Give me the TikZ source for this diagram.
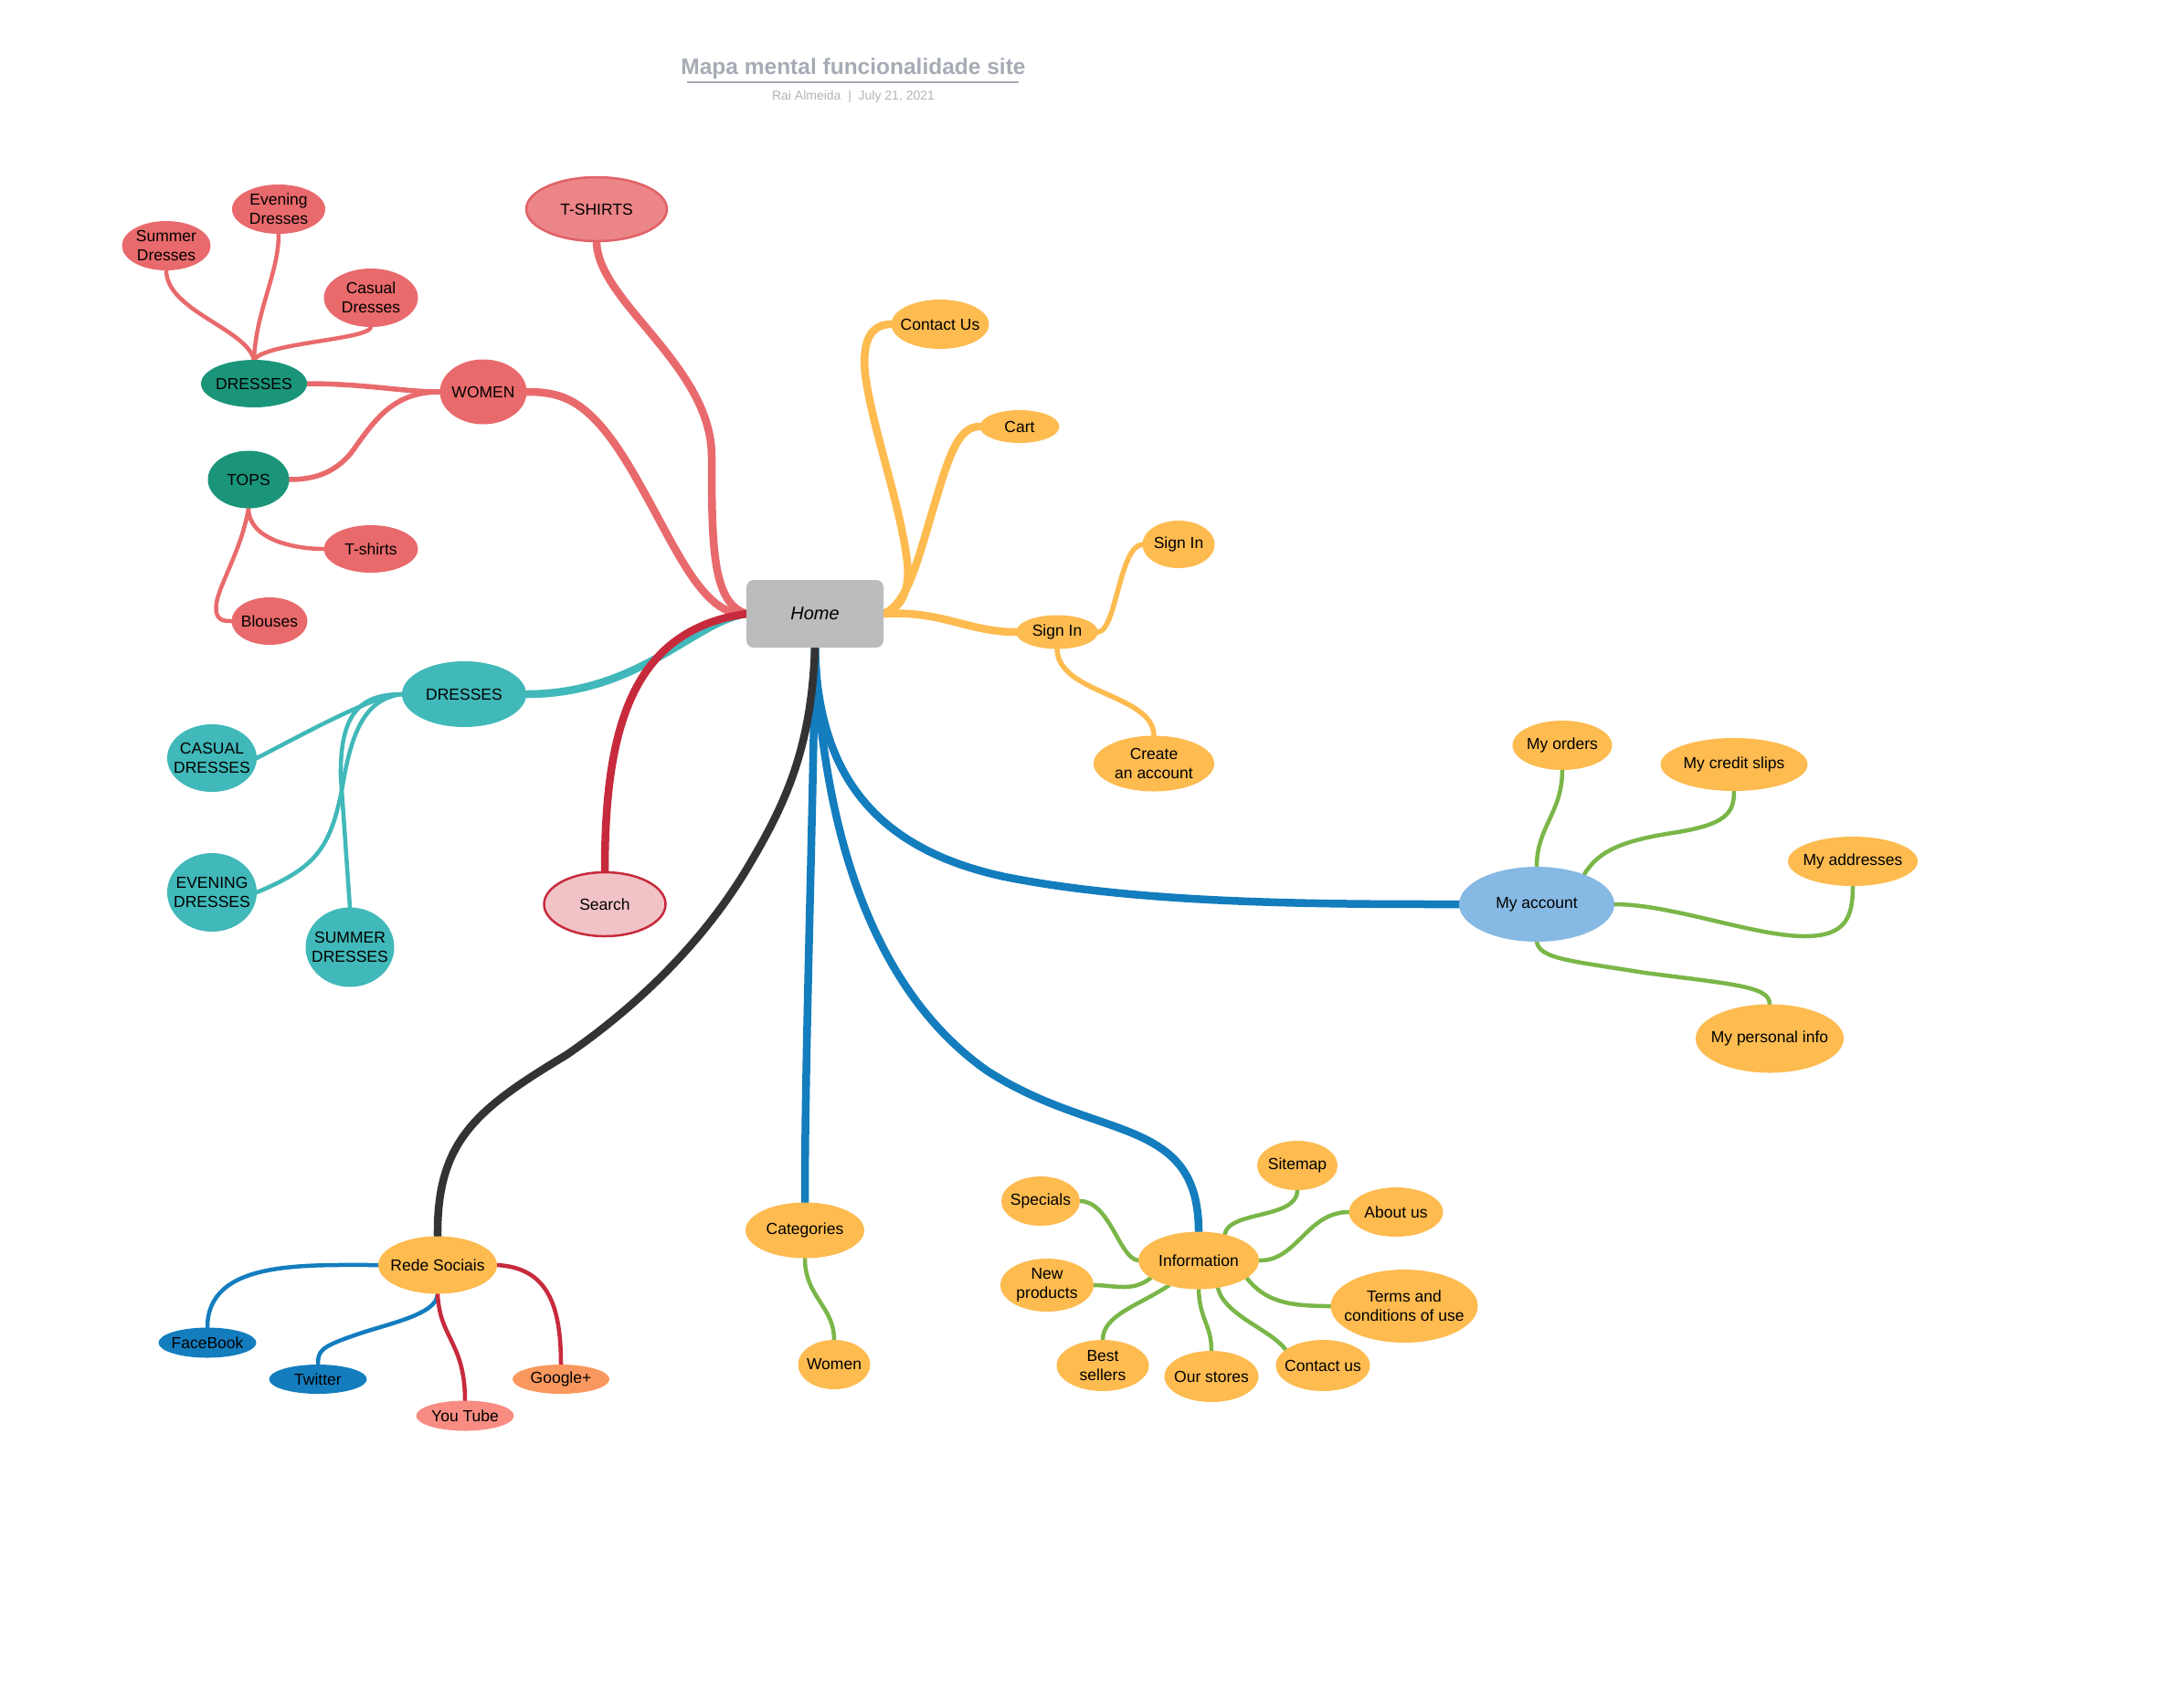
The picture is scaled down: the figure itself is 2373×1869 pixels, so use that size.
\documentclass[tikz,border=0pt]{standalone}
\usepackage{fontspec}
\setmainfont{Liberation Sans}
\usetikzlibrary{shapes.geometric}
\pgfdeclarelayer{back}
\pgfdeclarelayer{bg}
\pgfsetlayers{back,bg,main}
\definecolor{redn}{HTML}{E96A6C}
\definecolor{tsfill}{HTML}{EC8588}
\definecolor{tsline}{HTML}{E06266}
\definecolor{dgreen}{HTML}{1B957A}
\definecolor{tealc}{HTML}{41B8B9}
\definecolor{crim}{HTML}{C72A3C}
\definecolor{pinkf}{HTML}{F1C3C7}
\definecolor{orng}{HTML}{FDBB50}
\definecolor{blu}{HTML}{137DBE}
\definecolor{skyb}{HTML}{86B9E3}
\definecolor{grn}{HTML}{7AB648}
\definecolor{homeg}{HTML}{BBBCBE}
\definecolor{darkl}{HTML}{333333}
\definecolor{salm}{HTML}{F88C82}
\definecolor{gplus}{HTML}{F9985E}
\definecolor{titleg}{HTML}{A6ACB5}
\definecolor{subg}{HTML}{B1B5BB}
\begin{document}
\begin{tikzpicture}[x=1pt,y=-1pt,
  every label/.style={align=center, font=\fontsize{17.5}{21}\selectfont, inner sep=0pt, text=black},
  el/.style n args={3}{ellipse, minimum width=#1pt, minimum height=#2pt, inner sep=0pt, outer sep=0pt, fill=#3, draw=none},
  lk/.style={line cap=round, line join=round},
  mainln/.style={lk, line width=8.5pt},
  subln/.style={lk, line width=5.5pt},
  leafln/.style={lk, line width=4.5pt},
]
\begin{pgfonlayer}{back}
\fill[white] (0,0) rectangle (2373,1869);
\end{pgfonlayer}
\useasboundingbox (0,0) rectangle (2373,1869);

% title
\node[font=\bfseries\fontsize{24.5}{28}\selectfont, text=titleg, anchor=base, inner sep=0] (title) at (934,81) {Mapa mental funcionalidade site};
\coordinate (ula) at (752,90);
\coordinate (ulb) at (1115,90);
\draw[titleg, line width=2pt] (ula) -- (ulb);
\node[font=\fontsize{14}{16}\selectfont, text=subg, anchor=base, inner sep=0] (sub) at (934,109) {Rai Almeida\ \ |\ \ July 21, 2021};

% home
\node[rectangle, rounded corners=8pt, fill=homeg, minimum width=150pt, minimum height=74pt, inner sep=0pt,
  label={[font=\fontsize{20}{24}\selectfont\itshape]center:Home}] (home) at (892,672) {};

% red cluster
\node[el={102}{54}{redn}, label={center:Evening\\Dresses}] (evd) at (305,229) {};
\node[el={97}{54}{redn}, label={center:Summer\\Dresses}] (sud) at (182,269) {};
\node[el={103}{64}{redn}, label={center:Casual\\Dresses}] (cad) at (406,326) {};
\node[el={116}{52}{dgreen}, label={center:DRESSES}] (dra) at (278,420) {};
\node[el={95}{71}{redn}, label={center:WOMEN}] (women) at (529,429) {};
\node[el={89}{63}{dgreen}, label={center:TOPS}] (tops) at (272,525) {};
\node[el={103}{52}{redn}, label={center:T-shirts}] (tsh) at (406,601) {};
\node[el={83}{52}{redn}, label={center:Blouses}] (blo) at (295,680) {};
\node[el={154}{70}{tsfill}, draw=tsline, line width=2.5pt, label={center:T-SHIRTS}] (tshirts) at (653,229) {};

% teal cluster
\node[el={136}{72}{tealc}, label={center:DRESSES}] (drb) at (508,760) {};
\node[el={98}{74}{tealc}, label={center:CASUAL\\DRESSES}] (cas) at (232,830) {};
\node[el={98}{86}{tealc}, label={center:EVENING\\DRESSES}] (eve) at (232,977) {};
\node[el={97}{87}{tealc}, label={center:SUMMER\\DRESSES}] (sum) at (383,1037) {};
\node[el={133}{70}{pinkf}, draw=crim, line width=2.5pt, label={center:Search}] (search) at (662,990) {};

% orange upper right
\node[el={107}{54}{orng}, label={center:Contact Us}] (contact) at (1029,355) {};
\node[el={87}{36}{orng}, label={center:Cart}] (cart) at (1116,467) {};
\node[el={79}{52}{orng}, label={center:Sign In}] (signb) at (1290,596) {};
\node[el={90}{37}{orng}, label={center:Sign In}] (signa) at (1157,692) {};
\node[el={132}{61}{orng}, label={center:Create\\an account}] (create) at (1263,836) {};

% my account
\node[el={170}{82}{skyb}, label={center:My account}] (myacc) at (1682,990) {};
\node[el={109}{54}{orng}, label={center:My orders}] (orders) at (1710,816) {};
\node[el={161}{58}{orng}, label={center:My credit slips}] (credit) at (1898,837) {};
\node[el={142}{54}{orng}, label={center:My addresses}] (addr) at (2028,943) {};
\node[el={162}{75}{orng}, label={center:My personal info}] (pinfo) at (1937,1137) {};

% social
\node[el={130}{63}{orng}, label={center:Rede Sociais}] (rede) at (479,1385) {};
\node[el={107}{33}{blu}, label={center:FaceBook}] (fb) at (227,1470) {};
\node[el={107}{32}{blu}, label={center:Twitter}] (tw) at (348,1510) {};
\node[el={107}{33}{salm}, label={center:You Tube}] (yt) at (509,1550) {};
\node[el={106}{32}{gplus}, label={center:Google+}] (gp) at (614,1510) {};

% categories
\node[el={130}{61}{orng}, label={center:Categories}] (categ) at (881,1347) {};
\node[el={79}{54}{orng}, label={center:Women}] (womenb) at (913,1494) {};

% information
\node[el={132}{63}{orng}, label={center:Information}] (info) at (1312,1380) {};
\node[el={88}{54}{orng}, label={center:Sitemap}] (sitemap) at (1420,1276) {};
\node[el={103}{54}{orng}, label={center:About us}] (about) at (1528,1327) {};
\node[el={161}{80}{orng}, label={center:Terms and\\conditions of use}] (terms) at (1537,1430) {};
\node[el={103}{56}{orng}, label={center:Contact us}] (contactb) at (1448,1495) {};
\node[el={103}{56}{orng}, label={center:Our stores}] (stores) at (1326,1507) {};
\node[el={101}{56}{orng}, label={center:Best\\sellers}] (best) at (1207,1495) {};
\node[el={102}{58}{orng}, label={center:New\\products}] (newp) at (1146,1407) {};
\node[el={86}{54}{orng}, label={center:Specials}] (specials) at (1139,1315) {};

\begin{pgfonlayer}{bg}
% red branches
\draw[mainln, redn] (home.west) .. controls (770,676) and (740,600) .. (700,530) .. controls (650,440) and (620,429) .. (women.east);
\draw[mainln, redn] (home.west) .. controls (780,660) and (779,600) .. (779,500) .. controls (779,400) and (653,330) .. (tshirts.south);
\draw[subln, redn] (women.west) .. controls (440,429) and (400,420) .. (dra.east);
\draw[subln, redn] (women.west) .. controls (430,429) and (410,460) .. (385,495) .. controls (365,520) and (340,525) .. (tops.east);
\draw[leafln, redn] (dra.north) .. controls (270,360) and (182,340) .. (sud.south);
\draw[leafln, redn] (dra.north) .. controls (280,340) and (305,300) .. (evd.south);
\draw[leafln, redn] (dra.north) .. controls (290,375) and (404,372) .. (cad.south);
\draw[leafln, redn] (tops.south) .. controls (272,590) and (320,601) .. (tsh.west);
\draw[leafln, redn] (tops.south) .. controls (265,600) and (240,640) .. (237,660) .. controls (234,680) and (245,680) .. (blo.west);
% teal
\draw[mainln, tealc] (home.west) .. controls (760,680) and (700,760) .. (drb.east);
\draw[leafln, tealc] (drb.west) .. controls (410,760) and (330,805) .. (cas.east);
\draw[leafln, tealc] (drb.west) .. controls (400,765) and (385,800) .. (375,860) .. controls (362,930) and (345,950) .. (eve.east);
\draw[leafln, tealc] (drb.west) .. controls (395,760) and (372,780) .. (373,850) -- (sum.north);
% search
\draw[mainln, crim] (home.west) .. controls (690,690) and (662,800) .. (search.north);
% orange
\draw[mainln, orng] (home.east) .. controls (990,665) and (996,640) .. (993,615) .. controls (985,550) and (955,470) .. (947,410) .. controls (943,370) and (955,355) .. (contact.west);
\draw[mainln, orng] (home.east) .. controls (995,660) and (1005,610) .. (1025,545) .. controls (1040,495) and (1050,467) .. (cart.west);
\draw[mainln, orng] (home.east) .. controls (1030,668) and (1060,692) .. (signa.west);
\draw[subln, orng] (signa.east) .. controls (1222,690) and (1225,598) .. (signb.west);
\draw[subln, orng] (signa.south) .. controls (1158,760) and (1263,760) .. (create.north);
% blue
\draw[mainln, blu] (home.south) .. controls (895,850) and (960,930) .. (1100,960) .. controls (1250,990) and (1450,990) .. (myacc.west);
\draw[mainln, blu] (home.south) .. controls (900,900) and (950,1080) .. (1080,1172) .. controls (1200,1250) and (1312,1220) .. (info.north);
\draw[mainln, blu] (home.south) .. controls (890,900) and (881,1150) .. (categ.north);
% dark
\draw[mainln, darkl] (home.south) .. controls (888,820) and (860,880) .. (817,952) .. controls (770,1030) and (700,1100) .. (620,1155) .. controls (520,1215) and (478,1250) .. (rede.north);
% social children
\draw[leafln, blu] (rede.west) .. controls (330,1385) and (227,1380) .. (fb.north);
\draw[leafln, blu] (rede.south) .. controls (479,1440) and (420,1450) .. (385,1463) .. controls (350,1475) and (348,1480) .. (tw.north);
\draw[leafln, crim] (rede.south) .. controls (481,1465) and (509,1470) .. (yt.north);
\draw[leafln, crim] (rede.east) .. controls (600,1388) and (614,1430) .. (gp.north);
% categories
\draw[leafln, grn] (categ.south) .. controls (881,1420) and (913,1430) .. (womenb.north);
% information children
\draw[leafln, grn] (info.45) .. controls (1345,1325) and (1420,1335) .. (sitemap.south);
\draw[leafln, grn] (info.east) .. controls (1420,1381) and (1430,1327) .. (about.west);
\draw[leafln, grn] (info.-20) .. controls (1385,1425) and (1410,1430) .. (terms.west);
\draw[leafln, grn] (info.-55) .. controls (1340,1440) and (1390,1455) .. (contactb.157);
\draw[leafln, grn] (info.south) .. controls (1313,1445) and (1326,1450) .. (stores.north);
\draw[leafln, grn] (info.-140) .. controls (1245,1430) and (1207,1440) .. (best.north);
\draw[leafln, grn] (info.-160) .. controls (1240,1415) and (1220,1407) .. (newp.east);
\draw[leafln, grn] (info.west) .. controls (1225,1378) and (1215,1315) .. (specials.east);
% my account children
\draw[leafln, grn] (myacc.north) .. controls (1682,905) and (1710,890) .. (orders.south);
\draw[leafln, grn] (myacc.32) .. controls (1750,930) and (1780,920) .. (1830,912) .. controls (1890,903) and (1898,890) .. (credit.south);
\draw[leafln, grn] (myacc.east) .. controls (1830,990) and (1920,1025) .. (1975,1025) .. controls (2020,1025) and (2028,1005) .. (addr.south);
\draw[leafln, grn] (myacc.south) .. controls (1685,1050) and (1720,1052) .. (1800,1065) .. controls (1900,1078) and (1937,1080) .. (pinfo.north);
\end{pgfonlayer}
\end{tikzpicture}
\end{document}
